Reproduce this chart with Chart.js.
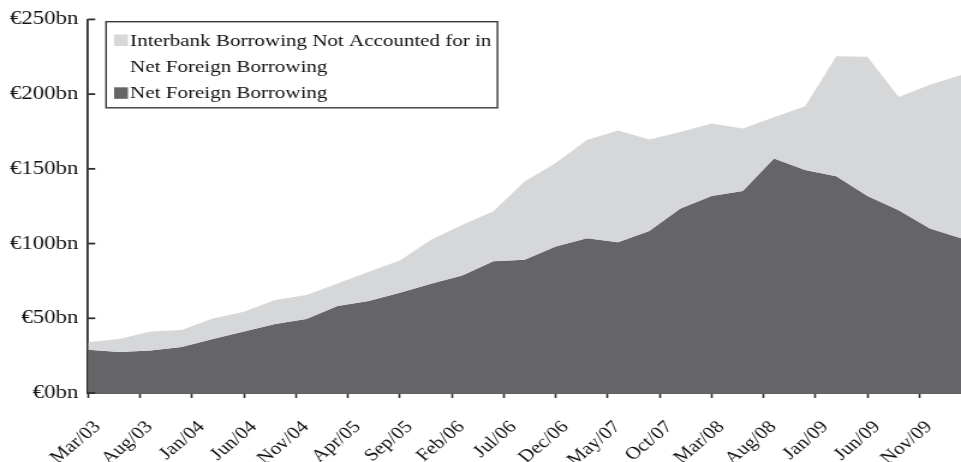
<!DOCTYPE html>
<html><head><meta charset="utf-8">
<script src="https://cdn.jsdelivr.net/npm/chart.js@4.4.1/dist/chart.umd.min.js"></script>
<style>html,body{margin:0;padding:0;background:#fff;overflow:hidden}
#c{display:block}</style>
</head><body>
<canvas id="c" width="800" height="462" style="width:961px;height:462px"></canvas>
<script>
// Quarterly observations, Mar/03 .. Mar/10
const quarters = ['Mar/03','Jun/03','Sep/03','Dec/03','Mar/04','Jun/04','Sep/04','Dec/04',
  'Mar/05','Jun/05','Sep/05','Dec/05','Mar/06','Jun/06','Sep/06','Dec/06',
  'Mar/07','Jun/07','Sep/07','Dec/07','Mar/08','Jun/08','Sep/08','Dec/08',
  'Mar/09','Jun/09','Sep/09','Dec/09','Mar/10'];
// Net foreign borrowing (€bn)
const netForeignBorrowing = [28.9, 27.4, 28.5, 30.7, 36.2, 41.1, 46.1, 49.5,
  58.3, 61.6, 67.1, 73.1, 78.6, 88.1, 89.2, 98.0,
  103.5, 100.9, 108.4, 123.4, 131.8, 135.1, 157.0, 149.2,
  145.0, 131.8, 122.3, 110.1, 103.5];
// Net foreign borrowing + interbank borrowing not accounted for (€bn, top of light area)
const totalBorrowing = [34.0, 36.2, 41.1, 42.2, 49.9, 54.3, 62.3, 65.6,
  73.2, 81.1, 88.7, 102.5, 112.4, 121.7, 141.5, 153.9,
  169.3, 175.7, 169.7, 174.6, 180.3, 177.0, 184.6, 191.9,
  225.4, 225.0, 198.0, 206.2, 212.8];
// X tick labels, every 5 months from Mar/03
const xTickLabels = ['Mar/03','Aug/03','Jan/04','Jun/04','Nov/04','Apr/05','Sep/05','Feb/06',
  'Jul/06','Dec/06','May/07','Oct/07','Mar/08','Aug/08','Jan/09','Jun/09','Nov/09'];
const yTickValues = [0, 50, 100, 150, 200, 250];
const legendLines = [
  ['Interbank Borrowing Not Accounted for in', 'Net Foreign Borrowing'],
  ['Net Foreign Borrowing']
];

const LIGHT = '#d6d7d9';
const DARK = '#656567';
const AXIS = '#2e2e2e';
const TEXT = '#111111';
const SERIF = '"Liberation Serif", "Times New Roman", Times, serif';

const monthsPerQuarter = 3;
const toPoints = arr => arr.map((v, i) => ({x: i * monthsPerQuarter, y: v}));

const inwardTicks = {
  id: 'inwardTicks',
  afterDraw(chart) {
    const y = chart.scales.y, ctx = chart.ctx, left = chart.chartArea.left;
    ctx.save();
    ctx.strokeStyle = AXIS;
    ctx.lineWidth = 1.8;
    y.ticks.forEach(t => {
      const py = y.getPixelForValue(t.value);
      ctx.beginPath();
      ctx.moveTo(left, py);
      ctx.lineTo(left + 6, py);
      ctx.stroke();
    });
    ctx.restore();
  }
};

const boxLegend = {
  id: 'boxLegend',
  afterDraw(chart) {
    const ctx = chart.ctx, a = chart.chartArea;
    ctx.save();
    ctx.font = '17.5px ' + SERIF;
    const boxL = a.left + 15, boxT = 21.7;
    const sq = 11.5, sqX = boxL + 6.7, textX = boxL + 20;
    const lineH = 26.4, firstBase = boxT + 23.8;
    let maxW = 0;
    legendLines.forEach(ls => ls.forEach(l => { maxW = Math.max(maxW, ctx.measureText(l).width); }));
    const nLines = legendLines.reduce((s, ls) => s + ls.length, 0);
    const boxW = textX + maxW + 5 - boxL;
    const boxH = firstBase + (nLines - 1) * lineH + 9.5 - boxT;
    ctx.fillStyle = '#ffffff';
    ctx.fillRect(boxL, boxT, boxW, boxH);
    ctx.strokeStyle = '#3a3a3a';
    ctx.lineWidth = 1.4;
    ctx.strokeRect(boxL, boxT, boxW, boxH);
    ctx.textBaseline = 'alphabetic';
    ctx.textAlign = 'left';
    let line = 0;
    chart.data.datasets.forEach((ds, di) => {
      const base = firstBase + line * lineH;
      ctx.fillStyle = ds.backgroundColor;
      ctx.fillRect(sqX, base - sq + 0.5, sq, sq);
      ctx.fillStyle = TEXT;
      legendLines[di].forEach((l, k) => {
        ctx.fillText(l, textX, firstBase + (line + k) * lineH);
      });
      line += legendLines[di].length;
    });
    ctx.restore();
  }
};

new Chart(document.getElementById('c'), {
  type: 'line',
  data: {
    labels: quarters,
    datasets: [
      {label: legendLines[0].join(' '), data: toPoints(totalBorrowing), backgroundColor: LIGHT,
       borderWidth: 0, fill: '+1', pointRadius: 0},
      {label: legendLines[1].join(' '), data: toPoints(netForeignBorrowing), backgroundColor: DARK,
       borderWidth: 0, fill: 'origin', pointRadius: 0}
    ]
  },
  options: {
    responsive: false,
    devicePixelRatio: 1,
    animation: false,
    layout: {padding: {top: 15.5, left: 0, right: 0, bottom: 0}},
    plugins: {legend: {display: false}, tooltip: {enabled: false}},
    elements: {line: {tension: 0, borderWidth: 0}, point: {radius: 0}},
    scales: {
      x: {
        type: 'linear', min: 0, max: 84,
        ticks: {stepSize: 5, includeBounds: false, autoSkip: false, minRotation: 45, maxRotation: 45,
          color: TEXT, padding: 19, labelOffset: 8, font: {family: SERIF, size: 17.5},
          callback: v => xTickLabels[Math.round(v / 5)]},
        grid: {drawOnChartArea: false, drawTicks: true, tickLength: 5, tickColor: AXIS, tickWidth: 1.6},
        border: {display: true, color: AXIS, width: 1.8},
        afterFit: s => { s.height = 69; }
      },
      y: {
        min: 0, max: 250,
        afterBuildTicks: s => { s.ticks = yTickValues.map(v => ({value: v})); },
        ticks: {color: TEXT, padding: 8, font: {family: SERIF, size: 19},
          callback: v => '\u20AC' + v + 'bn'},
        grid: {drawOnChartArea: false, drawTicks: false},
        border: {display: true, color: AXIS, width: 1.8},
        afterFit: s => { s.width = 73.3; }
      }
    }
  },
  plugins: [inwardTicks, boxLegend]
});
</script>
</body></html>
